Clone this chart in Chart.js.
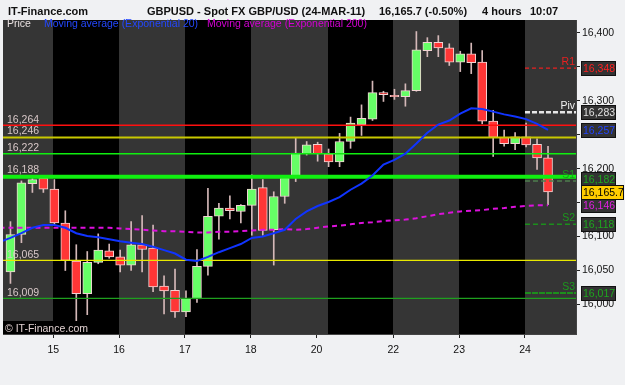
<!DOCTYPE html>
<html>
<head>
<meta charset="utf-8">
<title>GBPUSD 4 hours</title>
<script src="https://cdn.jsdelivr.net/npm/chart.js@4.4.1/dist/chart.umd.min.js"></script>
<style>
  html, body { margin: 0; padding: 0; background: #f0f1f3; }
  #myChart { display: block; }
</style>
</head>
<body>
<canvas id="myChart" width="625" height="385"></canvas>
<script>
// 4 hour candles, bar 0 is the first bar on screen (14-MAR-11)
const opens = [16048, 16103, 16178, 16186, 16170, 16120, 16064, 16016, 16062, 16079,
  16070, 16058, 16088, 16083, 16027, 16021, 15989, 16008, 16056, 16130,
  16142, 16137, 16146, 16172, 16110, 16159, 16188, 16222, 16236, 16222,
  16210, 16240, 16265, 16273, 16312, 16308, 16306, 16315, 16374, 16386,
  16378, 16357, 16369, 16357, 16270, 16246, 16237, 16247, 16236, 16216];
const highs = [16122, 16182, 16187, 16188, 16184, 16138, 16088, 16078, 16104, 16089,
  16080, 16122, 16131, 16117, 16042, 16052, 16020, 16081, 16171, 16149,
  16160, 16147, 16191, 16184, 16166, 16190, 16245, 16240, 16239, 16229,
  16252, 16276, 16294, 16329, 16314, 16317, 16325, 16402, 16393, 16396,
  16384, 16373, 16385, 16374, 16286, 16257, 16253, 16267, 16244, 16233];
const lows = [16031, 16091, 16165, 16165, 16116, 16050, 15976, 15985, 16060, 16068,
  16048, 16050, 16048, 16019, 15986, 15981, 15982, 16003, 16043, 16096,
  16126, 16120, 16102, 16102, 16058, 16149, 16181, 16220, 16211, 16203,
  16203, 16230, 16249, 16271, 16299, 16302, 16292, 16314, 16365, 16365,
  16352, 16343, 16340, 16266, 16218, 16233, 16228, 16232, 16199, 16147];
const closes = [16103, 16179, 16184, 16170, 16120, 16065, 16016, 16062, 16080, 16070,
  16058, 16088, 16081, 16026, 16020, 15989, 16009, 16056, 16130, 16142,
  16138, 16146, 16170, 16109, 16159, 16186, 16223, 16235, 16222, 16210,
  16240, 16267, 16274, 16312, 16309, 16306, 16315, 16375, 16386, 16378,
  16357, 16369, 16356, 16270, 16246, 16237, 16247, 16235, 16216, 16165.7];

// moving averages, first value is the bar just left of the screen
const ema20 = [16092, 16098, 16105, 16113, 16117, 16117, 16113, 16105, 16101, 16099,
  16096, 16093, 16091, 16089, 16085, 16080, 16075, 16066, 16064, 16070,
  16077, 16083, 16089, 16098, 16100, 16105, 16110, 16126, 16137, 16145,
  16151, 16158, 16169, 16178, 16190, 16206, 16213, 16222, 16237, 16253,
  16265, 16271, 16281, 16289, 16288, 16284, 16280, 16277, 16273, 16266, 16257];
const ema200 = [16113, 16113, 16113, 16113, 16113, 16113, 16113, 16113, 16113, 16113,
  16113, 16112, 16111, 16110, 16109, 16108, 16108, 16107, 16106, 16106,
  16107, 16107, 16108, 16109, 16110, 16110, 16111, 16110, 16111, 16113,
  16115, 16116, 16118, 16120, 16121, 16123, 16124, 16125, 16127, 16130,
  16133, 16135, 16137, 16138, 16139, 16141, 16142, 16144, 16145, 16146, 16146];

// time axis: day labels and the bar where each one starts
const dayLabels = ['15', '16', '17', '18', '20', '22', '23', '24'];
const dayStarts = [4, 10, 16, 22, 28, 35, 41, 47];
const bandStarts = [4, 10, 16, 22, 29, 35, 41, 47];

// price axis: tick marks every 50, labels only where no value box hides them
const yTicks = [16000, 16050, 16100, 16150, 16200, 16250, 16300, 16350, 16400];
const yLabels = [16000, 16050, 16100, 16200, 16300, 16400];

// horizontal levels drawn on the chart
const levelValues = [16264, 16246, 16222, 16188, 16065, 16009];
const levelColors = ['#ff1010', '#c8c800', '#10ee10', '#10f010', '#e8e800', '#1f9f1f'];
const levelWidths = [1.4, 2, 1.4, 4, 1.4, 1.4];

// pivot points of the current day
const pivotNames = ['R1', 'Piv', 'S1', 'S2', 'S3'];
const pivotValues = [16348, 16283, 16182, 16118, 16017];
const pivotColors = ['#e82020', '#e6e6e6', '#4e7e4e', '#1c8e1c', '#1c8e1c'];
const pivotWidths = [1.2, 2.5, 1.5, 1.5, 2];
const pivotDash = [[4, 3], [5, 2], [5, 3], [5, 3], [6, 1]];

const lastPrice = 16165.7;

const X_MIN = -0.68;
const X_MAX = 51.55;
const SHIFT = -0.1;
const FONT = '"Liberation Sans", Arial, sans-serif';

const fmt = (v) => String(v).replace(/\B(?=(\d{3})+(?!\d))/g, ',');

let candleColors = closes.map((c, i) => c >= opens[i] ? '#66ff66' : '#ff3636');

let wickData = highs.map((h, i) => ({ x: i, y: [lows[i], h] }));
let bodyData = opens.map((o, i) => ({ x: i, y: [o, closes[i]] }));
let ema20Data = ema20.map((v, i) => ({ x: i - 1, y: v }));
let ema200Data = ema200.map((v, i) => ({ x: i - 1, y: v }));

let datasets = [];
datasets.push({
  type: 'bar', label: 'wick', data: wickData, backgroundColor: '#d4b8b8',
  barThickness: 1, grouped: false, borderWidth: 0, order: 20
});
datasets.push({
  type: 'bar', label: 'Price', data: bodyData, backgroundColor: candleColors,
  borderColor: '#f2d4d4', borderWidth: 1, borderSkipped: false,
  barThickness: 9, grouped: false, order: 19
});
levelValues.forEach((v, i) => {
  datasets.push({
    type: 'line', data: [{ x: X_MIN, y: v }, { x: X_MAX, y: v }],
    borderColor: levelColors[i], borderWidth: levelWidths[i], pointRadius: 0, order: 5
  });
});
pivotValues.forEach((v, i) => {
  datasets.push({
    type: 'line', data: [{ x: dayStarts[7] + SHIFT, y: v }, { x: X_MAX, y: v }],
    borderColor: pivotColors[i], borderWidth: pivotWidths[i], borderDash: pivotDash[i],
    pointRadius: 0, order: 4
  });
});
datasets.push({
  type: 'line', label: 'Moving average (Exponential 200)', data: ema200Data,
  borderColor: '#dd10dd', borderWidth: 2, borderDash: [5, 4], pointRadius: 0, order: 2
});
datasets.push({
  type: 'line', label: 'Moving average (Exponential 20)', data: ema20Data,
  borderColor: '#1034ff', borderWidth: 2, pointRadius: 0, order: 1
});

// page background and the grey / black day bands
const bandPlugin = {
  id: 'bands',
  beforeDraw: (chart) => {
    const { ctx, chartArea: a } = chart;
    const x = chart.scales.x;
    ctx.save();
    ctx.fillStyle = '#f0f1f3';
    ctx.fillRect(0, 0, chart.width, chart.height);
    let edges = [X_MIN].concat(bandStarts.map(b => b + SHIFT), [X_MAX]);
    for (let i = 0; i < edges.length - 1; i++) {
      let x0 = Math.round(x.getPixelForValue(edges[i]));
      let x1 = Math.round(x.getPixelForValue(edges[i + 1]));
      ctx.fillStyle = i % 2 === 0 ? '#353535' : '#000000';
      ctx.fillRect(x0, a.top, x1 - x0, a.bottom - a.top);
    }
    ctx.restore();
  }
};

// texts on top of the plot: level values, pivot names, legend, copyright
const labelPlugin = {
  id: 'labels',
  afterDatasetsDraw: (chart) => {
    const { ctx, chartArea: a } = chart;
    const y = chart.scales.y;
    ctx.save();
    ctx.font = '10.5px ' + FONT;
    ctx.textBaseline = 'alphabetic';
    ctx.textAlign = 'left';
    ctx.fillStyle = '#d8c8c8';
    levelValues.forEach((v, i) => {
      ctx.fillText(fmt(v), a.left + 4, y.getPixelForValue(v) - 2 - levelWidths[i] / 2);
    });
    ctx.textAlign = 'right';
    pivotValues.forEach((v, i) => {
      ctx.fillStyle = i === 0 ? '#e82020' : (i === 1 ? '#f0f0f0' : '#1c9a1c');
      ctx.fillText(pivotNames[i], a.right - 1, y.getPixelForValue(v) - 3);
    });

    ctx.textAlign = 'left';
    ctx.fillStyle = '#e8e0e0';
    ctx.fillText('Price', 7, 27);
    ctx.fillStyle = '#2448ff';
    ctx.fillText('Moving average (Exponential 20)', 44, 27);
    ctx.fillStyle = '#d400d4';
    ctx.fillText('Moving average (Exponential 200)', 207, 27);

    ctx.fillStyle = '#000000';
    ctx.fillRect(a.left, a.bottom - 13, 86, 13);
    ctx.fillStyle = '#e0d0d0';
    ctx.fillText('\u00a9 IT-Finance.com', a.left + 2, a.bottom - 2);
    ctx.restore();
  },
  afterDraw: (chart) => {
    const { ctx, chartArea: a } = chart;
    const y = chart.scales.y;
    ctx.save();
    ctx.font = 'bold 11px ' + FONT;
    ctx.fillStyle = '#111111';
    ctx.textBaseline = 'alphabetic';
    ctx.fillText('IT-Finance.com', 8, 15);
    ctx.fillText('GBPUSD - Spot FX GBP/USD (24-MAR-11)', 147, 15);
    ctx.fillText('16,165.7 (-0.50%)', 379, 15);
    ctx.fillText('4 hours', 482, 15);
    ctx.fillText('10:07', 530, 15);

    // value boxes on the price axis
    let box = (v, text, color, bg, w, nudge) => {
      let cy = Math.round(y.getPixelForValue(v)) + (nudge || 0);
      ctx.fillStyle = '#111111';
      ctx.fillRect(a.right + 5, cy - 7, w, 15);
      ctx.fillStyle = bg;
      ctx.fillRect(a.right + 6, cy - 6, w - 2, 13);
      ctx.fillStyle = color;
      ctx.font = '10.5px ' + FONT;
      ctx.fillText(text, a.right + 7, cy + 4);
    };
    box(pivotValues[0], fmt(pivotValues[0]), '#ff2020', '#333333', 35);
    box(pivotValues[1], fmt(pivotValues[1]), '#e0e0e0', '#333333', 35);
    box(ema20[ema20.length - 1], fmt(ema20[ema20.length - 1]), '#2244ff', '#333333', 35);
    box(pivotValues[2], fmt(pivotValues[2]), '#1ea81e', '#333333', 35, -2);
    box(ema200[ema200.length - 1], fmt(ema200[ema200.length - 1]), '#e020e0', '#333333', 35);
    box(pivotValues[3], fmt(pivotValues[3]), '#1ea81e', '#333333', 35);
    box(pivotValues[4], fmt(pivotValues[4]), '#1ea81e', '#333333', 35);
    box(lastPrice, '16,165.7', '#000000', '#ffcc00', 43);
    ctx.restore();
  }
};

new Chart(document.getElementById('myChart'), {
  type: 'bar',
  data: { datasets: datasets },
  options: {
    responsive: false,
    animation: false,
    devicePixelRatio: 1,
    layout: { padding: { top: 20, left: 3, right: 0, bottom: 0 } },
    plugins: { legend: { display: false }, tooltip: { enabled: false } },
    scales: {
      x: {
        type: 'linear', min: X_MIN, max: X_MAX, offset: false, bounds: 'data',
        grid: { drawOnChartArea: false, drawTicks: true, tickLength: 4, color: '#222', offset: false },
        border: { display: true, color: '#444' },
        afterBuildTicks: (axis) => { axis.ticks = dayStarts.map(d => ({ value: d + SHIFT })); },
        afterFit: (axis) => { axis.height = 51; },
        ticks: {
          autoSkip: false, maxRotation: 0, padding: 6, color: '#111',
          font: { family: FONT, size: 10.5 },
          callback: (value, index) => dayLabels[index]
        }
      },
      y: {
        type: 'linear', position: 'right', min: 15956.5, max: 16419, bounds: 'data', beginAtZero: false,
        grid: { drawOnChartArea: false, drawTicks: true, tickLength: 4, color: '#222' },
        border: { display: true, color: '#444' },
        afterBuildTicks: (axis) => { axis.ticks = yTicks.map(v => ({ value: v })); },
        afterFit: (axis) => { axis.width = 49; },
        ticks: {
          autoSkip: false, padding: 2, color: '#111',
          font: { family: FONT, size: 10.5 },
          callback: (value) => yLabels.includes(value) ? fmt(value) : ''
        }
      }
    }
  },
  plugins: [bandPlugin, labelPlugin]
});
</script>
</body>
</html>
